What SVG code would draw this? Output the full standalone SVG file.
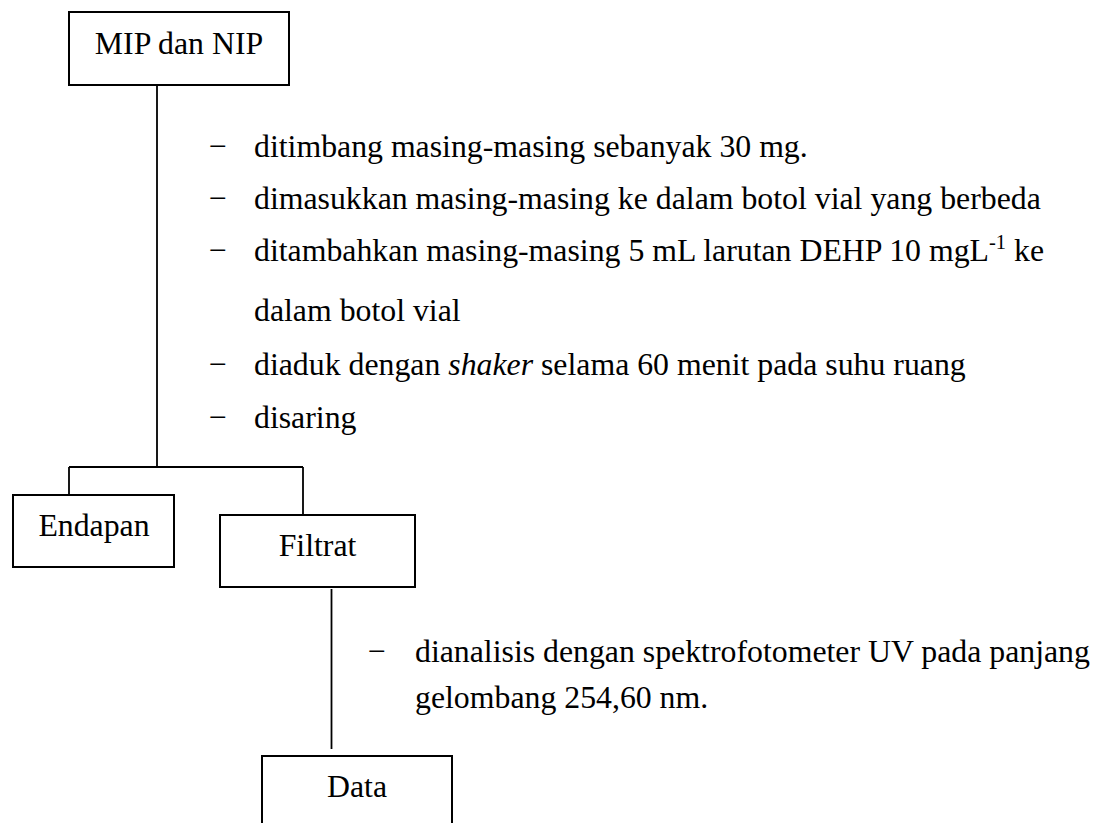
<svg xmlns="http://www.w3.org/2000/svg" width="1097" height="823" viewBox="0 0 1097 823">
<style>
.box{fill:#fff;stroke:#000;stroke-width:2}
.ln{fill:none;stroke:#000;stroke-width:1.8}
text{font-family:"Liberation Serif","Times New Roman",serif;font-size:31.8px;fill:#000}
.c{text-anchor:middle}
</style>
<rect width="1097" height="823" fill="#fff"/>
<g id="connectors">
<path class="ln" d="M157,85 V467 M69,467 H303 M69,467 V495 M303,467 V515"/>
<path class="ln" d="M331.5,589 V749"/>
</g>
<g id="node-mip">
<rect class="box" x="69" y="12" width="220" height="73"/>
<text class="c" x="179" y="54">MIP dan NIP</text>
</g>
<g id="steps-1">
<text x="209" y="157">−</text><text x="254" y="157">ditimbang masing-masing sebanyak 30 mg.</text>
<text x="209" y="209">−</text><text x="254" y="209">dimasukkan masing-masing ke dalam botol vial yang berbeda</text>
<text x="209" y="261">−</text><text x="254" y="261">ditambahkan masing-masing 5 mL larutan DEHP 10 mgL<tspan font-size="20.5" dy="-12">-1</tspan><tspan dy="12"> ke</tspan></text>
<text x="254" y="321">dalam botol vial</text>
<text x="209" y="375">−</text><text x="254" y="375">diaduk dengan <tspan font-style="italic">shaker</tspan> selama 60 menit pada suhu ruang</text>
<text x="209" y="428">−</text><text x="254" y="428">disaring</text>
</g>
<g id="node-endapan">
<rect class="box" x="13" y="495" width="161" height="72"/>
<text class="c" x="94" y="536">Endapan</text>
</g>
<g id="node-filtrat">
<rect class="box" x="220" y="515" width="195" height="72"/>
<text class="c" x="317.5" y="556">Filtrat</text>
</g>
<g id="steps-2">
<text x="368" y="662">−</text><text x="415" y="662">dianalisis dengan spektrofotometer UV pada panjang</text>
<text x="415" y="708">gelombang 254,60 nm.</text>
</g>
<g id="node-data">
<rect class="box" x="262" y="756" width="190" height="80"/>
<text class="c" x="357" y="797">Data</text>
</g>
</svg>
